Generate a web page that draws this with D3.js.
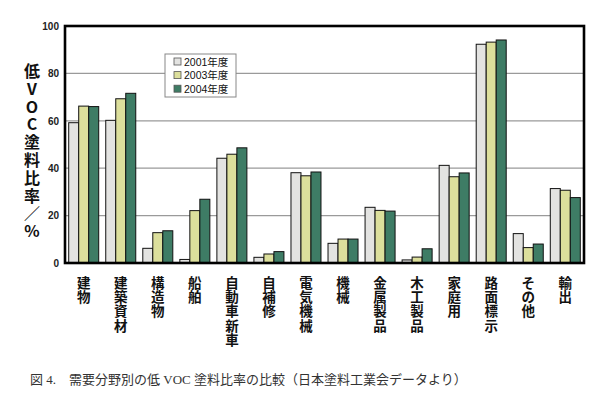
<!DOCTYPE html>
<html><head><meta charset="utf-8">
<script src="https://cdn.jsdelivr.net/npm/d3@7"></script>
<style>body{margin:0;background:#fff;} svg{display:block;}</style>
</head><body>
<svg id="c" width="600" height="408"></svg>
<script>
const categories = ["建物","建築資材","構造物","船舶","自動車新車","自補修","電気機械","機械","金属製品","木工製品","家庭用","路面標示","その他","輸出"];
const seriesNames = ["2001年度","2003年度","2004年度"];
const v2001 = [59.2,60.2,6.2,1.5,44.2,2.4,38.1,8.3,23.5,1.3,41.2,92.3,12.4,31.4];
const v2003 = [66.2,69.3,12.8,22.1,45.9,3.8,36.8,10.1,22.2,2.5,36.4,93.2,6.5,30.7];
const v2004 = [66.0,71.6,13.6,26.9,48.6,4.8,38.4,10.1,21.9,6.0,38.0,94.1,8.0,27.6];
const yTicks = [0,20,40,60,80,100];
const colors = ["#e3e3e1","#dcdf9c","#3e7c65"];
const yTitle = ["低","V","O","C","塗","料","比","率","／","%"];
const caption = "図 4.　需要分野別の低 VOC 塗料比率の比較（日本塗料工業会データより）";

const svg = d3.select("#c");
const L=65, R=584, T=26, B=263;
const x = d3.scaleBand().domain(categories).range([L,R]).paddingInner(0.19).paddingOuter(0.1);
const xs = d3.scaleBand().domain(seriesNames).range([0,x.bandwidth()]);
const y = d3.scaleLinear().domain([0,100]).range([B,T]);
const series = [v2001,v2003,v2004];

// gridlines
svg.append("g").selectAll("line").data(yTicks.filter(t=>t>0&&t<100)).join("line")
  .attr("x1",L).attr("x2",R).attr("y1",d=>y(d)).attr("y2",d=>y(d))
  .attr("stroke","#9a9a9a").attr("stroke-width",1.2);

// bars
const g = svg.append("g");
categories.forEach((c,i)=>{
  series.forEach((s,k)=>{
    g.append("rect")
      .attr("x",x(c)+xs(seriesNames[k]))
      .attr("y",y(s[i]))
      .attr("width",xs.bandwidth())
      .attr("height",y(0)-y(s[i]))
      .attr("fill",colors[k]).attr("stroke","#111").attr("stroke-width",1);
  });
});

// frame
svg.append("rect").attr("x",L).attr("y",T).attr("width",R-L).attr("height",B-T)
  .attr("fill","none").attr("stroke","#000").attr("stroke-width",2.6);

// y axis labels
const ya = svg.append("g").attr("transform",`translate(${L-6},0)`)
  .call(d3.axisLeft(y).tickValues(yTicks).tickSize(0).tickPadding(0));
ya.select(".domain").remove();
ya.selectAll("text").attr("font-family","Liberation Sans, Arial, sans-serif")
  .attr("font-size",10).attr("font-weight","bold").attr("fill","#222");

// y title
svg.append("g").selectAll("text").data(yTitle).join("text")
  .attr("x",32).attr("y",(d,i)=>77+i*17.8)
  .attr("text-anchor","middle")
  .attr("font-family","Noto Sans CJK JP, sans-serif").attr("font-weight","bold")
  .attr("font-size",16).attr("fill","#111").text(d=>d);

// x labels vertical
const xl = svg.append("g");
categories.forEach(c=>{
  Array.from(c).forEach((ch,j)=>{
    xl.append("text").attr("x",x(c)+x.bandwidth()/2).attr("y",288+j*14.2)
      .attr("text-anchor","middle")
      .attr("font-family","Noto Sans CJK JP, sans-serif").attr("font-weight","bold")
      .attr("font-size",13.5).attr("fill","#111").text(ch);
  });
});

// legend
const lg = svg.append("g");
lg.append("rect").attr("x",165).attr("y",54).attr("width",71).attr("height",43)
  .attr("fill","#fff").attr("stroke","#888").attr("stroke-width",1);
seriesNames.forEach((n,k)=>{
  lg.append("rect").attr("x",174).attr("y",58+k*13.6).attr("width",7).attr("height",7)
    .attr("fill",colors[k]).attr("stroke","#555").attr("stroke-width",0.8);
  lg.append("text").attr("x",184).attr("y",65.5+k*13.6)
    .attr("font-family","Liberation Sans, Noto Sans CJK JP, sans-serif")
    .attr("font-size",10.5).attr("fill","#111").text(n);
});

// caption
svg.append("text").attr("x",30).attr("y",384)
  .attr("font-family","Liberation Serif, Noto Sans CJK JP, serif")
  .attr("font-size",13).attr("fill","#333").text(caption);
</script>
</body></html>
